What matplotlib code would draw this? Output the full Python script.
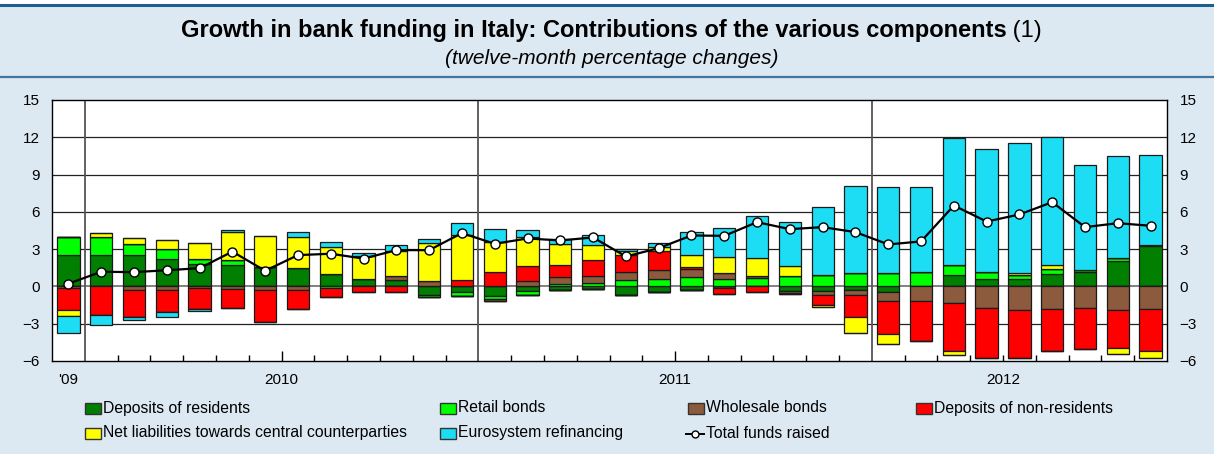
import matplotlib
matplotlib.use('Agg')
import matplotlib.pyplot as plt
import numpy as np
from matplotlib.patches import Rectangle
from matplotlib.lines import Line2D

plt.rcParams['font.family'] = ['Liberation Sans', 'DejaVu Sans']

# ---------------- data ----------------
months = ['Dec 09', 'Jan 10', 'Feb 10', 'Mar 10', 'Apr 10', 'May 10', 'Jun 10', 'Jul 10',
          'Aug 10', 'Sep 10', 'Oct 10', 'Nov 10', 'Dec 10', 'Jan 11', 'Feb 11', 'Mar 11',
          'Apr 11', 'May 11', 'Jun 11', 'Jul 11', 'Aug 11', 'Sep 11', 'Oct 11', 'Nov 11',
          'Dec 11', 'Jan 12', 'Feb 12', 'Mar 12', 'Apr 12', 'May 12', 'Jun 12', 'Jul 12',
          'Aug 12', 'Sep 12']

deposits_residents = [2.55, 2.49, 2.49, 2.22, 1.80, 1.75, 1.55, 1.47, 0.99, 0.60, 0.48, -0.65,
                      -0.46, -0.80, -0.35, -0.27, -0.22, -0.67, -0.46, -0.32, -0.15, 0.00,
                      -0.40, -0.35, -0.27, -0.46, 0.00, 0.91, 0.59, 0.59, 1.04, 1.15, 2.01, 3.27]
retail_bonds = [1.42, 1.50, 0.91, 0.80, 0.43, 0.35, 0.00, 0.00, -0.15, 0.00, 0.00, -0.22,
                -0.35, -0.19, -0.32, 0.20, 0.27, 0.48, 0.59, 0.72, 0.62, 0.67, 0.80, 0.91,
                1.07, 1.12, 1.20, 0.80, 0.56, 0.32, 0.35, 0.19, 0.27, 0.10]
wholesale_bonds = [-0.13, 0.00, -0.30, -0.30, -0.10, -0.19, -0.27, -0.27, 0.00, 0.00, 0.35, 0.45,
                   0.00, -0.16, 0.43, 0.54, 0.56, 0.70, 0.72, 0.67, 0.45, 0.20, -0.13, -0.32,
                   -0.40, -0.70, -1.20, -1.34, -1.74, -1.88, -1.82, -1.77, -1.93, -1.82]
deposits_nonres = [-1.75, -2.33, -2.14, -1.74, -1.70, -1.53, -2.57, -1.55, -0.73, -0.45, -0.46, 0.00,
                   0.52, 1.15, 1.20, 1.00, 1.29, 1.31, 1.55, 0.21, -0.42, -0.46, -0.10, -0.80,
                   -1.82, -2.65, -3.16, -3.88, -4.02, -3.88, -3.40, -3.27, -3.05, -3.40]
net_ccp = [-0.48, 0.30, 0.48, 0.75, 1.26, 2.28, 2.47, 2.52, 2.20, 1.85, 2.06, 3.03,
           3.63, 2.46, 2.33, 1.66, 1.18, 0.40, 0.35, 0.94, 1.30, 1.42, 0.88, -0.19,
           -1.26, -0.83, 0.00, -0.27, 0.00, 0.21, 0.32, 0.00, -0.43, -0.54]
eurosystem = [-1.39, -0.75, -0.27, -0.43, -0.20, 0.16, 0.00, 0.38, 0.35, 0.25, 0.43, 0.32,
              0.92, 0.99, 0.59, 0.40, 0.80, 0.16, 0.30, 1.83, 2.30, 3.35, 3.54, 5.52,
              7.05, 6.86, 6.83, 10.26, 9.91, 10.45, 10.34, 8.47, 8.25, 7.20]
total_funds = [0.22, 1.18, 1.15, 1.30, 1.47, 2.80, 1.26, 2.52, 2.63, 2.24, 2.92, 2.92,
               4.29, 3.43, 3.86, 3.70, 3.94, 2.41, 3.08, 4.10, 4.07, 5.17, 4.61, 4.77,
               4.37, 3.38, 3.62, 6.51, 5.22, 5.79, 6.78, 4.77, 5.09, 4.88]

series_names = ['Deposits of residents', 'Retail bonds', 'Wholesale bonds',
                'Deposits of non-residents', 'Net liabilities towards central counterparties',
                'Eurosystem refinancing']
year_labels = ["'09", '2010', '2011', '2012']

# ---------------- style ----------------
colors = ['#007F00', '#00FF00', '#8C5A3C', '#FF0000', '#FFFF00', '#1CDDF4']
bg = '#DDE9F2'
W, H = 1214, 454

fig = plt.figure(figsize=(W / 100, H / 100), dpi=100, facecolor=bg)
L, R, T, B = 52, 1167, 100, 361
ax = fig.add_axes([L / W, 1 - B / H, (R - L) / W, (B - T) / H])
ax.set_facecolor('white')

x = np.arange(len(months))
series = [deposits_residents, retail_bonds, wholesale_bonds, deposits_nonres, net_ccp, eurosystem]
pos_base = np.zeros(len(x))
neg_base = np.zeros(len(x))
for vals, col, name in zip(series, colors, series_names):
    v = np.array(vals, dtype=float)
    pos = np.where(v > 0, v, 0)
    neg = np.where(v < 0, v, 0)
    ax.bar(x, pos, bottom=pos_base, width=0.68, color=col, edgecolor='#1a1a1a',
           linewidth=0.9, zorder=3, label=name)
    ax.bar(x, neg, bottom=neg_base, width=0.68, color=col, edgecolor='#1a1a1a',
           linewidth=0.9, zorder=3)
    pos_base += pos
    neg_base += neg

ax.plot(x, total_funds, color='black', lw=1.6, zorder=5, marker='o', markersize=6.5,
        markerfacecolor='white', markeredgecolor='black', markeredgewidth=1.0)

ax.set_xlim(-0.5, len(x) - 0.5)
ax.set_ylim(-6, 15)

for yv in [-3, 3, 6, 9, 12]:
    ax.axhline(yv, color='#222222', lw=0.9, zorder=1)
ax.axhline(0, color='#777777', lw=1.3, zorder=1)
for xv in [0.5, 12.5, 24.5]:
    ax.axvline(xv, color='#555555', lw=1.3, zorder=1)

ax.set_yticks(np.arange(-6, 16, 3))
ax.tick_params(axis='y', length=0, labelsize=11, pad=9, left=False, right=False,
               labelleft=True, labelright=True)

ax.set_xticks([0, 6.5, 18.5, 28.5])
ax.set_xticklabels(year_labels)
ax.tick_params(axis='x', which='major', direction='in', length=7, width=1, labelsize=11, pad=9)
minor = [k + 0.5 for k in range(len(x) - 1) if (k + 0.5) not in (0.5, 12.5, 24.5, 6.5, 18.5, 28.5)]
ax.set_xticks(minor, minor=True)
ax.tick_params(axis='x', which='minor', direction='in', length=4, width=1)
xt = ax.xaxis.get_major_ticks()
xt[0].tick1line.set_visible(False)
xt[3].tick1line.set_markersize(4)

for s in ax.spines.values():
    s.set_color('black')
    s.set_linewidth(1.0)

# ---------------- header ----------------
fig.add_artist(Line2D([0, 1], [1 - 4.5 / H, 1 - 4.5 / H], color='#1F5F8B', lw=2.2,
                      transform=fig.transFigure))
fig.add_artist(Rectangle((0, 1 - 3.5 / H), 1, 3.5 / H, color='white',
                         transform=fig.transFigure, zorder=0))
fig.add_artist(Line2D([0, 1], [1 - 77 / H, 1 - 77 / H], color='#3F76A3', lw=1.6,
                      transform=fig.transFigure))

title_bold = 'Growth in bank funding in Italy: Contributions of the various components'
t1 = fig.text(0, 1 - 31 / H, title_bold, fontsize=17, fontweight='bold', ha='left', va='center')
t2 = fig.text(0, 1 - 31 / H, ' (1)', fontsize=17, ha='left', va='center')
fig.canvas.draw()
r = fig.canvas.get_renderer()
w1 = t1.get_window_extent(r).width
w2 = t2.get_window_extent(r).width
x0 = 611.5 - (w1 + w2) / 2
t1.set_x(x0 / W)
t2.set_x((x0 + w1) / W)
fig.text(611.5 / W, 1 - 58 / H, '(twelve-month percentage changes)', fontsize=15,
         style='italic', ha='center', va='center')

# ---------------- legend (manual) ----------------
leg_items = [
    (0, 85, 408), (1, 440, 408), (2, 688, 408), (3, 916, 408),
    (4, 85, 433), (5, 440, 433),
]
pw, ph = 16, 11
for idx, lx, ly in leg_items:
    fig.add_artist(Rectangle((lx / W, 1 - (ly + ph / 2) / H), pw / W, ph / H,
                             facecolor=colors[idx], edgecolor='#333333', lw=1.0,
                             transform=fig.transFigure))
    fig.text((lx + pw + 2) / W, 1 - ly / H, series_names[idx], fontsize=11.3,
             ha='left', va='center')
fig.add_artist(Line2D([686 / W, 704 / W], [1 - 434 / H, 1 - 434 / H], color='black', lw=1.4,
                      transform=fig.transFigure))
fig.add_artist(Line2D([695 / W], [1 - 434 / H], marker='o', markersize=5,
                      markerfacecolor='white', markeredgecolor='black', markeredgewidth=1,
                      transform=fig.transFigure))
fig.text(706 / W, 1 - 433 / H, 'Total funds raised', fontsize=11.3, ha='left', va='center')

fig.savefig('out.png', dpi=100, facecolor=bg)
